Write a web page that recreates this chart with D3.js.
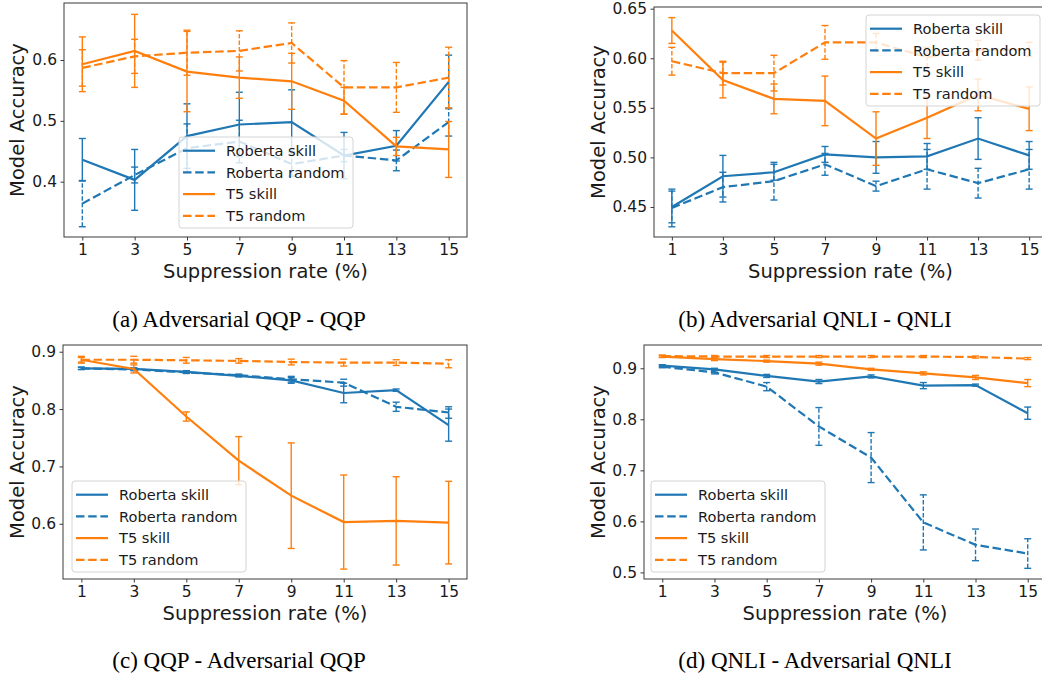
<!DOCTYPE html>
<html>
<head>
<meta charset="utf-8">
<script src="https://cdn.jsdelivr.net/npm/d3@7"></script>
<style>
  body { margin: 0; background: #fff; }
  svg { display: block; font-family: "DejaVu Sans", sans-serif; }
  .caption { font-family: "Liberation Serif", "Times New Roman", serif; }
</style>
</head>
<body>
<svg id="chart" width="1042" height="674"></svg>
<script>
// suppression rates on the x axis
const rates = [1, 3, 5, 7, 9, 11, 13, 15]
const seriesNames = ["Roberta skill", "Roberta random", "T5 skill", "T5 random"]
const captions = ["(a) Adversarial QQP - QQP", "(b) Adversarial QNLI - QNLI",
  "(c) QQP - Adversarial QQP", "(d) QNLI - Adversarial QNLI"]

// (a) Adversarial QQP - QQP
const aRobSkill = [0.436, 0.403, 0.475, 0.494, 0.498, 0.443, 0.459, 0.564]
const aRobSkillErr = [0.035, 0.050, 0.053, 0.053, 0.053, 0.038, 0.025, 0.044]
const aRobRandom = [0.364, 0.411, 0.455, 0.466, 0.429, 0.443, 0.435, 0.498]
const aRobRandomErr = [0.038, 0.013, 0.040, 0.035, 0.020, 0.010, 0.017, 0.023]
const aT5Skill = [0.593, 0.615, 0.581, 0.571, 0.565, 0.533, 0.458, 0.453]
const aT5SkillErr = [0.045, 0.060, 0.066, 0.034, 0.046, 0.022, 0.015, 0.046]
const aT5Random = [0.587, 0.606, 0.612, 0.615, 0.628, 0.555, 0.555, 0.571]
const aT5RandomErr = [0.030, 0.028, 0.037, 0.033, 0.033, 0.044, 0.041, 0.050]

// (b) Adversarial QNLI - QNLI
const bRobSkill = [0.450, 0.481, 0.485, 0.503, 0.500, 0.501, 0.519, 0.502]
const bRobSkillErr = [0.016, 0.021, 0.008, 0.008, 0.016, 0.013, 0.021, 0.014]
const bRobRandom = [0.449, 0.470, 0.476, 0.493, 0.471, 0.488, 0.474, 0.488]
const bRobRandomErr = [0.019, 0.015, 0.019, 0.011, 0.005, 0.020, 0.015, 0.020]
const bT5Skill = [0.628, 0.578, 0.559, 0.557, 0.519, 0.540, 0.563, 0.549]
const bT5SkillErr = [0.013, 0.018, 0.015, 0.025, 0.027, 0.021, 0.016, 0.022]
const bT5Random = [0.597, 0.585, 0.585, 0.616, 0.616, 0.601, 0.608, 0.609]
const bT5RandomErr = [0.014, 0.012, 0.018, 0.017, 0.009, 0.010, 0.010, 0.007]

// (c) QQP - Adversarial QQP
const cRobSkill = [0.871, 0.870, 0.865, 0.858, 0.850, 0.828, 0.833, 0.772]
const cRobSkillErr = [0.002, 0.002, 0.002, 0.002, 0.005, 0.017, 0.002, 0.028]
const cRobRandom = [0.871, 0.869, 0.864, 0.859, 0.852, 0.846, 0.804, 0.794]
const cRobRandomErr = [0.002, 0.002, 0.002, 0.002, 0.005, 0.006, 0.008, 0.010]
const cT5Skill = [0.886, 0.870, 0.787, 0.710, 0.649, 0.603, 0.605, 0.602]
const cT5SkillErr = [0.004, 0.007, 0.008, 0.042, 0.092, 0.082, 0.077, 0.072]
const cT5Random = [0.886, 0.886, 0.885, 0.884, 0.882, 0.881, 0.881, 0.879]
const cT5RandomErr = [0.006, 0.006, 0.005, 0.004, 0.005, 0.006, 0.005, 0.007]

// (d) QNLI - Adversarial QNLI
const dRobSkill = [0.905, 0.898, 0.885, 0.874, 0.884, 0.866, 0.867, 0.812]
const dRobSkillErr = [0.002, 0.002, 0.003, 0.004, 0.003, 0.006, 0.002, 0.012]
const dRobRandom = [0.903, 0.892, 0.864, 0.786, 0.725, 0.598, 0.554, 0.537]
const dRobRandomErr = [0.002, 0.003, 0.008, 0.037, 0.049, 0.054, 0.031, 0.029]
const dT5Skill = [0.923, 0.918, 0.914, 0.909, 0.898, 0.890, 0.882, 0.871]
const dT5SkillErr = [0.002, 0.003, 0.002, 0.003, 0.002, 0.003, 0.004, 0.007]
const dT5Random = [0.924, 0.923, 0.923, 0.923, 0.923, 0.923, 0.922, 0.919]
const dT5RandomErr = [0.002, 0.002, 0.002, 0.002, 0.002, 0.002, 0.002, 0.002]

const BLUE = "#1f77b4", ORANGE = "#ff7f0e"
const styles = [
  {color: BLUE, dash: null},
  {color: BLUE, dash: "8.5,3.7"},
  {color: ORANGE, dash: null},
  {color: ORANGE, dash: "8.5,3.7"}
]

// layout of the four panels (pixel boxes and y ranges)
const panels = [
  {box: {l: 64, r: 467, t: 3, b: 237}, yDom: [0.3091, 0.6937], yTicks: [0.4, 0.5, 0.6], fmt: ".1f",
    ylabX: 17, legend: {x: 179, y: 137}, cap: {x: 239, y: 327},
    series: [[aRobSkill, aRobSkillErr], [aRobRandom, aRobRandomErr], [aT5Skill, aT5SkillErr], [aT5Random, aT5RandomErr]]},
  {box: {l: 654, r: 1047, t: 7, b: 237}, yDom: [0.4197, 0.6517], yTicks: [0.45, 0.5, 0.55, 0.6, 0.65], fmt: ".2f",
    ylabX: 598, legend: {x: 866, y: 15}, cap: {x: 815, y: 327},
    series: [[bRobSkill, bRobSkillErr], [bRobRandom, bRobRandomErr], [bT5Skill, bT5SkillErr], [bT5Random, bT5RandomErr]]},
  {box: {l: 63, r: 467, t: 345, b: 579}, yDom: [0.5037, 0.9117], yTicks: [0.6, 0.7, 0.8, 0.9], fmt: ".1f",
    ylabX: 17, legend: {x: 72, y: 481}, cap: {x: 239, y: 668},
    series: [[cRobSkill, cRobSkillErr], [cRobRandom, cRobRandomErr], [cT5Skill, cT5SkillErr], [cT5Random, cT5RandomErr]]},
  {box: {l: 644, r: 1046, t: 345, b: 579}, yDom: [0.4871, 0.9456], yTicks: [0.5, 0.6, 0.7, 0.8, 0.9], fmt: ".1f",
    ylabX: 598, legend: {x: 651, y: 481}, cap: {x: 815, y: 668},
    series: [[dRobSkill, dRobSkillErr], [dRobRandom, dRobRandomErr], [dT5Skill, dT5SkillErr], [dT5Random, dT5RandomErr]]}
]

const svg = d3.select("#chart")
svg.append("rect").attr("width", 1042).attr("height", 674).attr("fill", "#fff")

panels.forEach((p, pi) => {
  const B = p.box
  const x = d3.scaleLinear().domain([0.3, 15.7]).range([B.l, B.r])
  const y = d3.scaleLinear().domain(p.yDom).range([B.b, B.t])
  const g = svg.append("g")

  // series: error bars + line
  p.series.forEach((s, si) => {
    const st = styles[si]
    const means = s[0], errs = s[1]
    const eg = g.append("g").attr("stroke", st.color).attr("stroke-width", 1.4).attr("fill", "none")
    rates.forEach((r, i) => {
      const cx = x(r), y0 = y(means[i] - errs[i]), y1 = y(means[i] + errs[i])
      eg.append("line").attr("x1", cx).attr("x2", cx).attr("y1", y0).attr("y2", y1)
        .attr("stroke-dasharray", st.dash ? "4.5,2" : null)
      eg.append("line").attr("x1", cx - 3.5).attr("x2", cx + 3.5).attr("y1", y0).attr("y2", y0)
      eg.append("line").attr("x1", cx - 3.5).attr("x2", cx + 3.5).attr("y1", y1).attr("y2", y1)
    })
    const line = d3.line().x((d, i) => x(rates[i])).y(d => y(d))
    g.append("path").datum(means).attr("d", line)
      .attr("fill", "none").attr("stroke", st.color).attr("stroke-width", 2.2)
      .attr("stroke-dasharray", st.dash)
  })

  // frame
  g.append("rect").attr("x", B.l).attr("y", B.t).attr("width", B.r - B.l).attr("height", B.b - B.t)
    .attr("fill", "none").attr("stroke", "#3a3a3a").attr("stroke-width", 1)

  // axes
  const xa = g.append("g").attr("transform", `translate(0,${B.b})`)
    .call(d3.axisBottom(x).tickValues(rates).tickSizeInner(3.5).tickSizeOuter(0).tickPadding(3.5))
  const ya = g.append("g").attr("transform", `translate(${B.l},0)`)
    .call(d3.axisLeft(y).tickValues(p.yTicks).tickFormat(d3.format(p.fmt)).tickSizeInner(3.5).tickSizeOuter(0).tickPadding(3.5))
  ;[xa, ya].forEach(a => {
    a.select(".domain").remove()
    a.selectAll("line").attr("stroke", "#3a3a3a")
    a.selectAll("text").attr("fill", "#1a1a1a").style("font-size", "15.5px").style("font-family", "DejaVu Sans")
  })

  g.append("text").attr("x", (B.l + B.r) / 2).attr("y", B.b + 41)
    .attr("text-anchor", "middle").style("font-size", "19.5px").attr("fill", "#1a1a1a")
    .text("Suppression rate (%)")
  g.append("text").attr("transform", `translate(${p.ylabX},${(B.t + B.b) / 2}) rotate(-90)`)
    .attr("text-anchor", "middle").attr("dominant-baseline", "central")
    .style("font-size", "19.5px").attr("fill", "#1a1a1a").text("Model Accuracy")

  // legend
  const L = p.legend
  const lg = g.append("g").attr("transform", `translate(${L.x},${L.y})`)
  lg.append("rect").attr("width", 174).attr("height", 91).attr("rx", 3)
    .attr("fill", "#fff").attr("fill-opacity", 0.8).attr("stroke", "#d4d4d4").attr("stroke-width", 1)
  seriesNames.forEach((name, i) => {
    const ry = 13.7 + i * 21.7
    lg.append("line").attr("x1", 4).attr("x2", 36).attr("y1", ry).attr("y2", ry)
      .attr("stroke", styles[i].color).attr("stroke-width", 2.2).attr("stroke-dasharray", styles[i].dash)
    lg.append("text").attr("x", 47).attr("y", ry).attr("dy", "0.36em")
      .style("font-size", "14.6px").attr("fill", "#1a1a1a").text(name)
  })

  svg.append("text").attr("class", "caption").attr("x", p.cap.x).attr("y", p.cap.y)
    .attr("text-anchor", "middle").style("font-size", "23px").attr("fill", "#000")
    .text(captions[pi])
})
</script>
</body>
</html>
